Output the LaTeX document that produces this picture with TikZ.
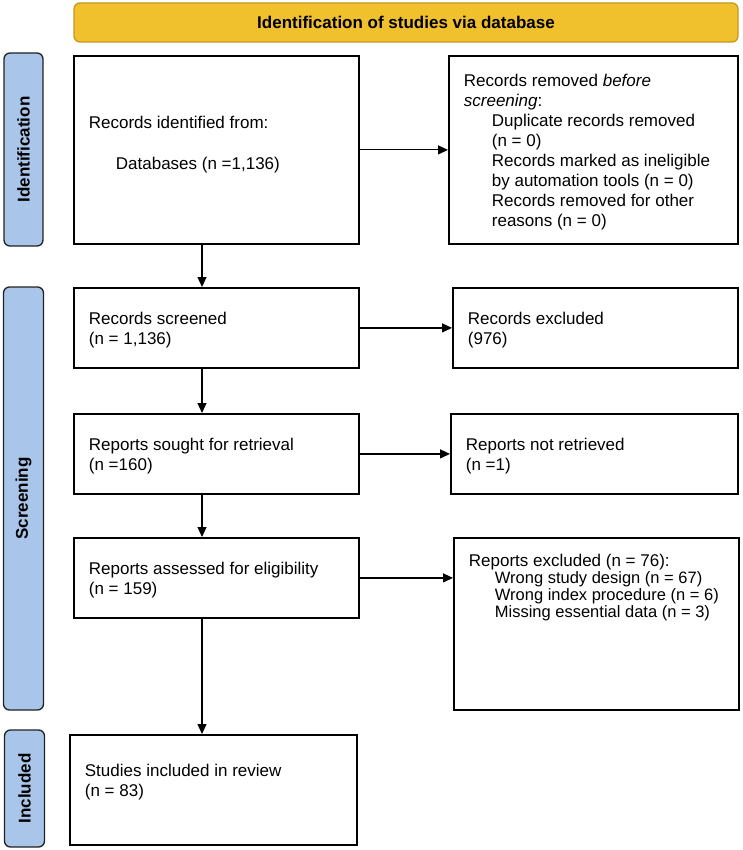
\documentclass[tikz,border=0pt]{standalone}
\usepackage{fontspec}
\setmainfont{Liberation Sans}
\usetikzlibrary{arrows.meta}
\definecolor{hdrfill}{HTML}{F0C12C}
\definecolor{hdrdraw}{HTML}{C49A1C}
\definecolor{sidefill}{HTML}{A9C5EA}
\definecolor{sidedraw}{HTML}{222222}
\newcommand{\btxt}[4]{\parbox[c][#2][t]{#1}{\fontsize{17}{20}\selectfont\vspace*{#3}\raggedright\leftskip=15pt\relax\leavevmode\strut #4}}
\newcommand{\subfs}{\fontsize{16.5}{20}\selectfont}
\begin{document}
\begin{tikzpicture}[x=1pt,y=-1pt,
  prbox/.style={draw=black, line width=1.8pt, inner sep=0pt, anchor=north west, fill=white},
  side/.style={draw=sidedraw, fill=sidefill, line width=1.3pt, rounded corners=6pt, rotate=90,
    font=\fontsize{17}{20}\selectfont\bfseries, inner sep=0pt},
  hdr/.style={draw=hdrdraw, fill=hdrfill, line width=1.3pt, rounded corners=6pt,
    font=\fontsize{17}{20}\selectfont\bfseries, inner sep=0pt},
  arr/.style={line width=1.2pt, -{Triangle[length=10pt,width=9pt]}}
]
\useasboundingbox (0,0) rectangle (742,850);
\fill[white] (0,0) rectangle (742,850);

% header
\node[hdr, minimum width=664pt, minimum height=39pt] (head) at (406,22.5) {Identification of studies via database};

% side labels
\node[side, minimum width=193pt, minimum height=39pt] (lid) at (23.5,149.5) {Identification};
\node[side, minimum width=423pt, minimum height=40pt] (lscr) at (23.5,498.5) {Screening};
\node[side, minimum width=117pt, minimum height=40pt] (linc) at (24.5,788.5) {Included};

% boxes
\node[prbox] (idn) at (73,55) {\btxt{285pt}{188pt}{59pt}{Records identified from:\\[21pt]\hspace*{27pt}Databases (n =1,136)}};
\node[prbox] (rem) at (448,55) {\btxt{289pt}{188pt}{17pt}{Records removed \textit{before}\\
\textit{screening}:\\
\hspace*{28pt}Duplicate records removed\\
\hspace*{28pt}(n = 0)\\
\hspace*{28pt}Records marked as ineligible\\
\hspace*{28pt}by automation tools (n = 0)\\
\hspace*{28pt}Records removed for other\\
\hspace*{28pt}reasons (n = 0)}};

\node[prbox] (scr) at (73,287) {\btxt{285pt}{80pt}{23pt}{Records screened\\(n = 1,136)}};
\node[prbox] (exc) at (452,287) {\btxt{285pt}{80pt}{23pt}{Records excluded\\(976)}};

\node[prbox] (sou) at (73,413) {\btxt{285pt}{80pt}{23pt}{Reports sought for retrieval\\(n =160)}};
\node[prbox] (nret) at (450,413) {\btxt{287pt}{80pt}{23pt}{Reports not retrieved\\(n =1)}};

\node[prbox] (ass) at (73,537) {\btxt{285pt}{80pt}{23pt}{Reports assessed for eligibility\\(n = 159)}};
\node[prbox] (rexc) at (453,537) {\btxt{285pt}{172pt}{15pt}{Reports excluded (n = 76):\\[-3.3pt]
{\subfs\hspace*{26pt}Wrong study design (n = 67)}\\[-3.3pt]
{\subfs\hspace*{26pt}Wrong index procedure (n = 6)}\\[-3.3pt]
{\subfs\hspace*{26pt}Missing essential data (n = 3)}}};

\node[prbox] (inc) at (69,734) {\btxt{287pt}{110pt}{28pt}{Studies included in review\\(n = 83)}};

% connectors
\coordinate (ax) at (202,0);
\draw[arr] (idn.south -| ax) -- (scr.north -| ax);
\draw[arr] (scr.south -| ax) -- (sou.north -| ax);
\draw[arr] (sou.south -| ax) -- (ass.north -| ax);
\draw[arr] (ass.south -| ax) -- (inc.north -| ax);

\draw[arr] (idn.east) -- (idn.east -| rem.west);
\draw[arr] (scr.east) -- (scr.east -| exc.west);
\draw[arr] (sou.east) -- (sou.east -| nret.west);
\draw[arr] (ass.east) -- (ass.east -| rexc.west);
\end{tikzpicture}
\end{document}
